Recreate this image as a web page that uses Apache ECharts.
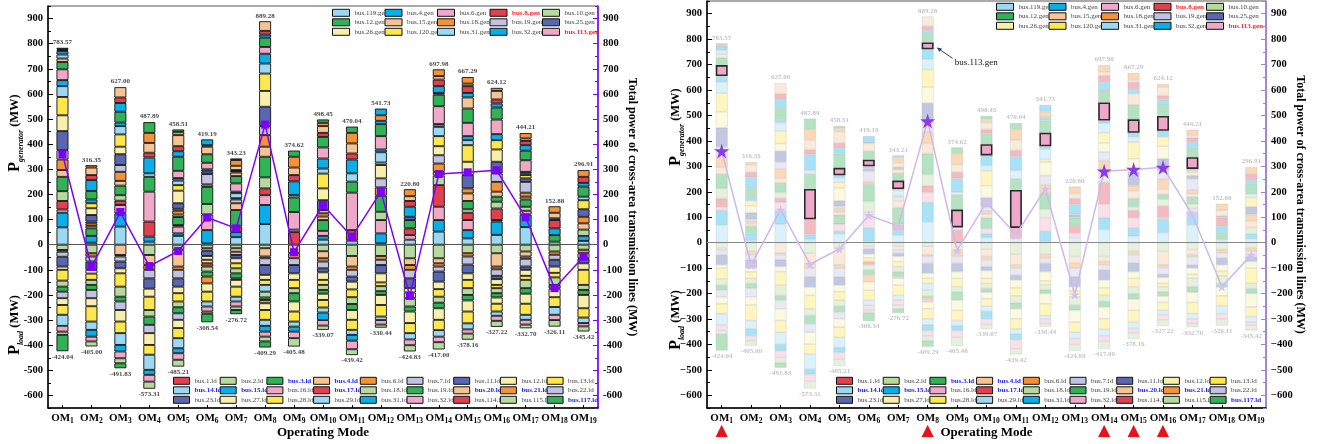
<!DOCTYPE html>
<html>
<head>
<meta charset="utf-8">
<script src="https://cdn.jsdelivr.net/npm/echarts@6/dist/echarts.min.js"></script>
<style>html,body{margin:0;padding:0;background:#fff}#c{width:1319px;height:444px}</style>
</head>
<body>
<div id="c"></div>
<script>
// ---------------- DATA ----------------
const categories = ['OM1','OM2','OM3','OM4','OM5','OM6','OM7','OM8','OM9','OM10','OM11','OM12','OM13','OM14','OM15','OM16','OM17','OM18','OM19'];
const genTotals  = [783.57, 316.35, 627.00, 487.89, 458.51, 419.19, 343.23, 889.28, 374.62, 498.45, 470.04, 541.73, 220.80, 697.98, 667.29, 624.12, 444.21, 152.88, 296.91];
const loadTotals = [-424.04, -405.00, -491.83, -573.31, -485.21, -308.54, -276.72, -409.29, -405.48, -339.07, -439.42, -330.44, -424.83, -417.00, -378.16, -327.22, -332.70, -326.11, -345.42];
const crossAreaPower = [360, -88, 130, -85, -25, 108, 65, 478, -30, 158, 32, 211, -204, 281, 288, 296, 109, -173, -48];
const highlightedModes = [0, 7, 13, 14, 15]; // OM1, OM8, OM14, OM15, OM16
const yTickValues = [-600,-500,-400,-300,-200,-100,0,100,200,300,400,500,600,700,800,900];

const genLegendNames = ['bus.119.gen','bus.4.gen','bus.6.gen','bus.8.gen','bus.10.gen',
  'bus.12.gen','bus.15.gen','bus.18.gen','bus.19.gen','bus.25.gen',
  'bus.26.gen','bus.120.gen','bus.31.gen','bus.32.gen','bus.113.gen'];
const loadLegendNames = ['bus.1.ld','bus.2.ld','bus.3.ld','bus.4.ld','bus.6.ld','bus.7.ld','bus.11.ld','bus.12.ld','bus.13.ld',
  'bus.14.ld','bus.15.ld','bus.16.ld','bus.17.ld','bus.18.ld','bus.19.ld','bus.20.ld','bus.21.ld','bus.22.ld',
  'bus.23.ld','bus.27.ld','bus.28.ld','bus.29.ld','bus.31.ld','bus.32.ld','bus.114.ld','bus.115.ld','bus.117.ld'];
const redLegendNames = ['bus.8.gen','bus.113.gen'];
const blueLegendNames = ['bus.3.ld','bus.4.ld','bus.14.ld','bus.15.ld','bus.17.ld','bus.20.ld','bus.21.ld','bus.117.ld'];

// generator output per operating mode: [generator slot, MW] from bottom up
const genOM1  = [[0,69],[1,58],[2,13],[3,34],[4,39],[5,57],[6,27],[7,42],[8,37],[9,76],[10,63],[11,73],[12,43],[13,24],[14,43],[20,29],[21,14],[27,16],[28,13],[33,4],[36,4],[39,5.57]];
const genOM2  = [[0,8],[1,27],[5,30],[6,10],[7,10],[8,7],[9,26],[10,27],[11,20],[13,15],[20,34],[28,43],[33,20],[36,30],[37,9.35]];
const genOM3  = [[0,72],[1,53],[2,33],[3,17],[4,22],[5,38],[6,19],[7,36],[8,27],[9,43],[10,30],[11,49],[12,33],[13,14],[20,43],[28,35],[33,22],[36,41]];
const genOM4  = [[0,12],[1,20],[3,60],[14,119],[20,59],[27,14],[28,63],[33,19],[36,39],[37,40],[50,42.89]];
const genOM5  = [[0,35],[1,10],[2,27],[3,6],[5,32],[6,10],[7,15],[8,8],[9,22],[10,50],[11,22],[12,18],[13,10],[14,29],[20,56],[28,22],[33,20],[36,44],[37,13],[50,9.51]];
const genOM6  = [[0,5],[1,53],[2,62],[4,42],[5,68],[7,10],[8,41],[9,11],[13,8],[14,26],[20,34],[21,30],[24,6],[28,23.19]];
const genOM7  = [[0,30],[1,20],[3,22],[5,66],[6,27],[8,15],[11,5],[12,20],[13,6],[14,33],[20,29],[21,14],[24,6],[28,4],[36,17],[37,23],[43,6.23]];
const genOM8  = [[0,82],[1,76],[2,39],[3,27],[4,44],[5,82],[6,40],[7,46],[8,36],[9,77],[10,63],[11,69],[12,40],[13,39],[14,27],[20,37],[28,12],[33,15],[36,38.28]];
const genOM9  = [[3,50],[8,10],[14,70],[20,58],[27,10],[28,54],[33,25],[36,30],[37,43],[50,24.62]];
const genOM10 = [[0,20],[1,15],[2,20],[5,43],[6,14],[7,13],[8,13],[9,39],[10,47],[11,59],[12,20],[13,40],[14,44],[20,42],[33,16],[36,27],[37,13],[50,13.45]];
const genOM11 = [[0,16],[3,42],[14,149],[20,44],[27,33],[28,55],[33,24],[36,40],[37,42],[50,25.04]];
const genOM12 = [[0,5],[1,40],[2,53],[4,33],[5,64],[7,33],[8,36],[10,53],[11,10],[12,41],[13,11],[14,53],[20,48],[28,13],[37,22],[43,26.73]];
const genOM13 = [[0,20],[2,18],[3,27],[5,33],[9,13],[28,40],[33,23],[36,19],[37,27.8]];
const genOM14 = [[0,52],[1,46],[2,53],[3,86],[4,38],[6,15],[7,33],[8,33],[10,36],[11,40],[12,37],[13,11],[14,71],[20,46],[24,7],[28,27],[33,26],[36,14],[37,26.98]];
const genOM15 = [[0,25],[1,33],[2,40],[3,29],[4,14],[5,33],[6,30],[7,20],[9,53],[10,53],[11,66],[12,20],[13,16],[14,53],[20,57],[21,44],[28,18],[33,27],[36,10],[37,26.29]];
const genOM16 = [[0,39],[1,53],[2,6],[3,46],[4,27],[5,20],[6,20],[7,39],[8,34],[9,46],[10,49],[11,37],[13,24],[14,58],[20,48],[28,16],[33,16],[36,34],[37,12.12]];
const genOM17 = [[0,70],[1,50],[2,15],[4,16],[5,29],[6,11],[7,16],[8,43],[9,14],[11,13],[12,7],[13,6],[14,46],[20,38],[28,22],[33,17],[36,10],[37,21.21]];
const genOM18 = [[0,12],[5,26],[13,27],[18,33],[24,7],[36,22],[37,25.88]];
const genOM19 = [[0,15],[1,20],[4,25],[6,25],[7,26],[9,30],[11,36],[12,14],[20,40],[28,15],[33,24],[37,26.91]];

// load per operating mode: [load slot, MW] from zero downward
const loadOM1  = [[1,-21],[3,-7],[5,-20],[6,-39],[7,-13],[8,-43],[13,-24],[14,-20],[17,-26],[19,-27],[20,-39],[21,-44],[23,-23],[25,-13],[26,-65.04]];
const loadOM2  = [[1,-34],[4,-13],[5,-20],[6,-33],[7,-15],[8,-25],[13,-20],[14,-20],[17,-33],[19,-32],[20,-61],[21,-33],[22,-27],[23,-19],[25,-20]];
const loadOM3  = [[3,-41],[4,-6],[5,-20],[6,-27],[7,-20],[8,-53],[13,-40],[14,-19],[17,-34],[19,-46],[20,-46],[21,-47],[22,-26],[23,-27],[25,-20],[26,-19.83]];
const loadOM4  = [[1,-41],[3,-40],[4,-19],[5,-34],[6,-41],[7,-32],[8,-53],[13,-26],[14,-33],[17,-33],[19,-47],[20,-39],[21,-60],[22,-20],[23,-27],[25,-28.31]];
const loadOM5  = [[1,-20],[3,-67],[4,-13],[5,-34],[6,-33],[7,-26],[8,-33],[13,-23],[14,-24],[17,-26],[19,-33],[20,-40],[21,-40],[22,-20],[23,-26],[25,-27.21]];
const loadOM6  = [[1,-14],[5,-10],[6,-21],[7,-15],[8,-14],[12,-13],[13,-20],[14,-20],[16,-27],[19,-33],[20,-39],[21,-20],[23,-20],[25,-9],[26,-33.54]];
const loadOM7  = [[1,-14],[3,-14],[5,-13],[6,-13],[7,-20],[8,-20],[13,-20],[14,-20],[17,-6],[19,-27],[20,-40],[21,-19],[23,-20],[25,-14],[26,-16.72]];
const loadOM8  = [[1,-14],[3,-33],[4,-7],[5,-27],[6,-39],[7,-20],[8,-20],[9,-27],[13,-23],[14,-10],[16,-13],[19,-27],[20,-39],[21,-24],[22,-23],[23,-20],[25,-19],[26,-24.29]];
const loadOM9  = [[3,-34],[4,-20],[5,-27],[6,-33],[7,-26],[8,-33],[13,-20],[14,-33],[19,-40],[20,-40],[21,-20],[22,-20],[23,-26],[25,-33.48]];
const loadOM10 = [[1,-26],[3,-28],[4,-13],[5,-27],[6,-16],[7,-30],[8,-20],[13,-20],[14,-15],[19,-25],[20,-30],[21,-20],[22,-30],[23,-22],[25,-17.07]];
const loadOM11 = [[1,-45],[3,-42],[4,-13],[5,-27],[6,-20],[7,-31],[8,-31],[13,-27],[14,-24],[19,-39],[20,-40],[21,-20],[22,-23],[23,-34],[25,-23.42]];
const loadOM12 = [[1,-45],[4,-15],[5,-21],[6,-33],[7,-36],[8,-15],[13,-20],[14,-15],[19,-40],[20,-46],[21,-14],[23,-18],[25,-12.44]];
const loadOM13 = [[1,-54],[3,-27],[4,-19],[5,-34],[6,-39],[7,-17],[8,-23],[13,-33],[14,-20],[19,-46],[20,-40],[21,-25],[23,-23],[25,-24.83]];
const loadOM14 = [[1,-54],[3,-20],[4,-13],[5,-20],[6,-40],[7,-30],[8,-30],[13,-24],[14,-22],[19,-46],[20,-41],[21,-26],[23,-22],[25,-29]];
const loadOM15 = [[1,-34],[4,-13],[5,-32],[6,-35],[7,-26],[8,-33],[13,-27],[14,-22],[19,-44],[20,-47],[21,-24],[23,-17],[25,-24.16]];
const loadOM16 = [[1,-34],[3,-53],[4,-11],[5,-26],[6,-13],[7,-23],[8,-13],[13,-20],[14,-17],[19,-25],[20,-31],[21,-17],[23,-20],[25,-24.22]];
const loadOM17 = [[1,-27],[3,-20],[4,-9],[5,-31],[6,-13],[7,-24],[8,-16],[13,-33],[14,-22],[19,-40],[20,-44],[21,-20],[23,-19],[25,-14.7]];
const loadOM18 = [[1,-27],[4,-13],[5,-20],[6,-27],[7,-25],[8,-18],[13,-30],[14,-15],[19,-34],[20,-39],[21,-31],[23,-21],[25,-26.11]];
const loadOM19 = [[1,-20],[4,-14],[5,-20],[6,-20],[7,-26],[8,-60],[13,-20],[14,-20],[19,-53],[20,-37],[21,-22],[23,-13],[25,-20.42]];

// ---------------- STYLE ----------------
const C = {lb:'#9bd8f3', cy:'#0aaee8', pk:'#f0a8c8', rd:'#e0414f', lg:'#b6d99d', gr:'#33b157',
           pc:'#f5c495', or:'#f39237', lv:'#c2c2e2', sl:'#5a66b0', ly:'#f8efad', ye:'#fde74c'};
const genPalette  = [C.lb,C.cy,C.pk,C.rd,C.lg,C.gr,C.pc,C.or,C.lv,C.sl,C.ly,C.ye,C.lb,C.cy,C.pk];
const loadPalette = [C.rd,C.lg,C.gr,C.pc,C.or,C.lv,C.sl,C.ly,C.ye,C.lb,C.cy,C.pk];
const F = '"Liberation Serif","Times New Roman","DejaVu Serif",serif';

const genByMode  = [genOM1,genOM2,genOM3,genOM4,genOM5,genOM6,genOM7,genOM8,genOM9,genOM10,genOM11,genOM12,genOM13,genOM14,genOM15,genOM16,genOM17,genOM18,genOM19];
const loadByMode = [loadOM1,loadOM2,loadOM3,loadOM4,loadOM5,loadOM6,loadOM7,loadOM8,loadOM9,loadOM10,loadOM11,loadOM12,loadOM13,loadOM14,loadOM15,loadOM16,loadOM17,loadOM18,loadOM19];

function slotData(byMode, slot) {
  return byMode.map(list => { const e = list.find(p => p[0] === slot); return e ? e[1] : null; });
}
function slotsWithLegend(byMode, nLegend) {
  const s = new Set(byMode.flat().map(p => p[0]));
  for (let i = 0; i < nLegend; i++) s.add(i);
  return [...s].sort((a, b) => a - b);
}
const genSlots = slotsWithLegend(genByMode, genLegendNames.length);
const loadSlots = slotsWithLegend(loadByMode, loadLegendNames.length);
const genName = s => s < 15 ? genLegendNames[s] : 'gen unit ' + (s + 1);

const panels = [
  {grid:{left:48, top:6, width:550, height:402}, faded:false, rightColor:'#7f00ff',
   genLeg:{x:332, rows:[13,22.5,32], dx:52.5}, loadLeg:{x:173, rows:[381,390.5,400], dx:46.7},
   titleX:15, genTitleY:133, loadTitleY:325, minus:'-'},
  {grid:{left:707, top:1, width:559, height:407}, faded:true, rightColor:'#a47ddf',
   genLeg:{x:996, rows:[7,16.5,26], dx:52.5}, loadLeg:{x:836, rows:[381,390.5,400], dx:46.7},
   titleX:676, genTitleY:127, loadTitleY:320, minus:'\u2212'}
];

const grids = [], xAxes = [], yAxes = [], series = [], legends = [], graphics = [];
const labelFont = {fontFamily:F, fontWeight:'bold', fontSize:10.5, color:'#000'};

panels.forEach((P, g) => {
  grids.push(Object.assign({show:true, borderColor:'#555', borderWidth:1, backgroundColor:'transparent',
    containLabel:false, outerBoundsMode:'none'}, P.grid));
  xAxes.push({
    type:'category', gridIndex:g, data:categories, boundaryGap:true,
    axisLine:{onZero:false, lineStyle:{color:'#000', width:1.5}},
    axisTick:{show:true, alignWithLabel:true, inside:true, length:3, lineStyle:{color:'#000'}},
    axisLabel:{interval:0, margin:3,
      formatter:(v, i) => {
        let s = '{a|OM}{b|' + v.slice(2) + '}';
        if (g === 1 && highlightedModes.includes(i)) s += '\n{t|\u25B2}';
        return s;
      },
      rich:{
        a:{fontFamily:F, fontWeight:'bold', fontSize:11, color:'#000', lineHeight:14},
        b:{fontFamily:F, fontWeight:'bold', fontSize:7.5, color:'#000', lineHeight:6, verticalAlign:'bottom'},
        t:{fontFamily:'DejaVu Sans', fontSize:16, color:'#e5141c', lineHeight:11}
      }},
    splitLine:{show:false},
    name:'Operating Mode', nameLocation:'middle', nameGap:18, nameMoveOverlap:false,
    nameTextStyle:{fontFamily:F, fontWeight:'bold', fontSize:13, color:'#000'}
  });
  const fmt = v => (v % 100 === 0 ? (v < 0 ? P.minus + (-v) : String(v)) : '');
  yAxes.push({type:'value', gridIndex:g, position:'left', min:-650, max:950, interval:50,
    axisLine:{show:true, lineStyle:{color:'#000', width:1.5}},
    axisTick:{show:true, inside:true, length:5, customValues:yTickValues, lineStyle:{color:'#000'}},
    axisLabel:Object.assign({margin:5, formatter:fmt}, labelFont),
    splitLine:{show:false}});
  yAxes.push({type:'value', gridIndex:g, position:'left', min:-650, max:950, interval:50,
    axisLine:{show:false}, axisLabel:{show:false}, splitLine:{show:false},
    axisTick:{show:true, inside:true, length:3, lineStyle:{color:'#000'}}});
  yAxes.push({type:'value', gridIndex:g, position:'right', min:-650, max:950, interval:50,
    axisLine:{show:true, lineStyle:{color:P.rightColor, width:1.5}},
    axisTick:{show:true, inside:true, length:5, customValues:yTickValues, lineStyle:{color:P.rightColor}},
    axisLabel:Object.assign({margin:5, formatter:fmt}, labelFont),
    splitLine:{show:false},
    name:'Total power of cross-area transmission lines (MW)', nameLocation:'middle', nameRotate:-90, nameGap:28,
    nameMoveOverlap:false,
    nameTextStyle:{fontFamily:F, fontWeight:'bold', fontSize:12, color:'#000'}});
  yAxes.push({type:'value', gridIndex:g, position:'right', min:-650, max:950, interval:50,
    axisLine:{show:false}, axisLabel:{show:false}, splitLine:{show:false},
    axisTick:{show:true, inside:true, length:3, lineStyle:{color:P.rightColor}}});

  const yMain = g * 4, yRight = g * 4 + 2;
  genSlots.forEach(s => {
    const hl = P.faded && s === 14;
    const col = genPalette[s % 15];
    series.push({
      type:'bar', id:(g ? 'r' : 'l') + '-gen-' + s, name:genName(s), stack:'stack' + g,
      xAxisIndex:g, yAxisIndex:yMain, barWidth:12, data:slotData(genByMode, s), z:hl ? 4 : 2,
      itemStyle: (P.faded && !hl) ? {color:col, opacity:0.36, borderColor:'#a0a0a0', borderWidth:0.6}
                                  : {color:col, borderColor: hl ? '#2a2a2a' : '#111', borderWidth: hl ? 1.6 : 0.9},
      emphasis:{disabled:true}, silent:true, animation:false
    });
  });
  loadSlots.forEach(s => {
    const col = loadPalette[s % 12];
    series.push({
      type:'bar', id:(g ? 'r' : 'l') + '-load-' + s, name:loadLegendNames[s], stack:'stack' + g,
      xAxisIndex:g, yAxisIndex:yMain, barWidth:12, data:slotData(loadByMode, s), z:2,
      itemStyle: P.faded ? {color:col, opacity:0.36, borderColor:'#a0a0a0', borderWidth:0.6}
                         : {color:col, borderColor:'#111', borderWidth:0.9},
      emphasis:{disabled:true}, silent:true, animation:false
    });
  });
  const lblColor = P.faded ? '#b4b4b4' : '#111';
  [[genTotals, 'top'], [loadTotals, 'bottom']].forEach(([arr, pos]) => {
    series.push({type:'scatter', xAxisIndex:g, yAxisIndex:yMain, data:arr, symbolSize:1,
      itemStyle:{color:'rgba(0,0,0,0)'}, silent:true, z:12, animation:false,
      label:{show:true, position:pos, distance:1.5, formatter:p => (p.data).toFixed(2),
        fontFamily:F, fontSize:7, fontWeight:'bold', color:lblColor}});
  });
  const star = 'path://M50,0 L61,35 L98,35 L68,57 L79,91 L50,70 L21,91 L32,57 L2,35 L39,35 Z';
  series.push({
    type:'line', xAxisIndex:g, yAxisIndex:yRight, z:10, animation:false, silent:true,
    data: P.faded
      ? crossAreaPower.map((v, i) => highlightedModes.includes(i)
          ? {value:v, symbolSize:15, itemStyle:{color:'#8a3de6', opacity:1}}
          : {value:v, symbolSize:10, itemStyle:{color:'#d3c2f1', opacity:1}})
      : crossAreaPower,
    symbol: P.faded ? star : 'rect', symbolSize: P.faded ? 10 : 8,
    itemStyle:{color: P.faded ? '#d3c2f1' : '#7b00f7'},
    lineStyle:{color: P.faded ? '#cdb8ee' : '#8000ff', width:1.5},
    markLine:{silent:true, symbol:'none', label:{show:false}, animation:false,
      lineStyle:{color: P.faded ? '#888' : '#555', width:1, type:'solid'}, data:[{yAxis:0}]}
  });

  const mkLegend = (name, left, cy, iw) => {
    const item = {name};
    if (redLegendNames.includes(name)) item.textStyle = {color:'#ff1f1f', fontWeight:'bold'};
    if (blueLegendNames.includes(name)) item.textStyle = {color:'#2020ff', fontWeight:'bold'};
    legends.push({show:true, left, top:cy - 4.2, orient:'horizontal', padding:0, itemGap:0,
      itemWidth:iw, itemHeight:7, icon:'rect', selectedMode:false, data:[item],
      itemStyle:{opacity:1, borderColor:'#111', borderWidth:1},
      textStyle:{fontFamily:F, fontSize:7, color:'#444'}});
  };
  genLegendNames.forEach((n, k) => mkLegend(n, P.genLeg.x + (k % 5) * P.genLeg.dx, P.genLeg.rows[Math.floor(k / 5)], 17));
  loadLegendNames.forEach((n, k) => mkLegend(n, P.loadLeg.x + (k % 9) * P.loadLeg.dx, P.loadLeg.rows[Math.floor(k / 9)], 16));

  const titleRich = {
    p:{fontFamily:F, fontWeight:'bold', fontSize:16, lineHeight:20, fill:'#000'},
    s:{fontFamily:F, fontWeight:'bold', fontStyle:'italic', fontSize:8, lineHeight:7, verticalAlign:'bottom', fill:'#000'},
    m:{fontFamily:F, fontWeight:'bold', fontSize:12.5, lineHeight:20, fill:'#000'}
  };
  graphics.push({type:'text', x:P.titleX, y:P.genTitleY, rotation:Math.PI / 2, silent:true,
    style:{text:'{p|P}{s|generator}{m| (MW)}', rich:titleRich, align:'center', verticalAlign:'middle'}});
  graphics.push({type:'text', x:P.titleX, y:P.loadTitleY, rotation:Math.PI / 2, silent:true,
    style:{text:'{p|P}{s|load}{m| (MW)}', rich:titleRich, align:'center', verticalAlign:'middle'}});
});

const chart = echarts.init(document.getElementById('c'), null, {renderer:'canvas'});
chart.setOption({
  backgroundColor:'#fff', animation:false,
  grid:grids, xAxis:xAxes, yAxis:yAxes, series:series, legend:legends, graphic:graphics
});

// annotation pointing at bus.113.gen segment of OM8 (right panel)
(function () {
  const mode = 7;
  const list = genByMode[mode];
  let below = 0, own = 0;
  list.forEach(p => { if (p[0] < 14) below += p[1]; if (p[0] === 14) own = p[1]; });
  const pt = chart.convertToPixel({seriesId:'r-gen-14'}, [mode, below + own / 2]);
  const tip = [pt[0] + 9, pt[1] + 1.5], tail = [pt[0] + 25, pt[1] + 12.5];
  const ang = Math.atan2(tip[1] - tail[1], tip[0] - tail[0]);
  const L = 5, W = 2.2;
  const bx = tip[0] - L * Math.cos(ang), by = tip[1] - L * Math.sin(ang);
  const head = [tip, [bx + W * Math.sin(ang), by - W * Math.cos(ang)], [bx - W * Math.sin(ang), by + W * Math.cos(ang)]];
  chart.setOption({graphic: graphics.concat([
    {type:'line', silent:true, z:20, shape:{x1:tail[0], y1:tail[1], x2:bx, y2:by}, style:{stroke:'#2c3c8c', lineWidth:1}},
    {type:'polygon', silent:true, z:20, shape:{points:head}, style:{fill:'#2c3c8c'}},
    {type:'text', silent:true, z:20, x:pt[0] + 27, y:pt[1] + 17,
     style:{text:'bus.113.gen', fontFamily:F, fontSize:9, fill:'#111', align:'left', verticalAlign:'middle'}}
  ])});
})();
</script>
</body>
</html>
